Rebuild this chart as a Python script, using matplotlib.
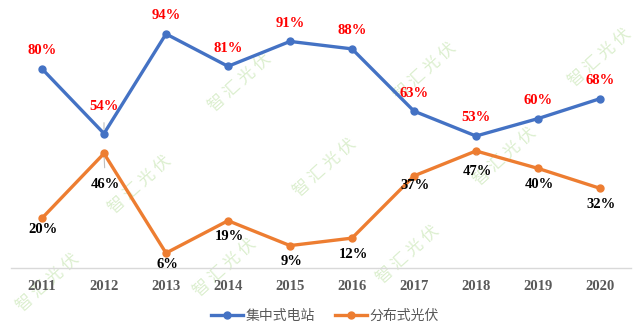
import matplotlib.pyplot as plt

plt.rcParams['font.family'] = ['Noto Sans CJK SC', 'DejaVu Sans']
plt.rcParams['axes.unicode_minus'] = False

years = ['2011', '2012', '2013', '2014', '2015', '2016', '2017', '2018', '2019', '2020']
centralized = [80, 54, 94, 81, 91, 88, 63, 53, 60, 68]
distributed = [20, 46, 6, 19, 9, 12, 37, 47, 40, 32]
series_names = ['集中式电站', '分布式光伏']

BLUE = '#4472C4'
ORANGE = '#ED7D31'
GREY = '#595959'
serif_bold = dict(family='Liberation Serif', weight='bold', fontsize=10.5)

fig = plt.figure(figsize=(6.4, 3.34), dpi=100)
ax = fig.add_axes([11 / 640, 66 / 334, 620 / 640, 249 / 334])

x = list(range(len(years)))
ax.plot(x, centralized, color=BLUE, lw=2.4, marker='o', ms=5, label=series_names[0], zorder=3)
ax.plot(x, distributed, color=ORANGE, lw=2.4, marker='o', ms=5, label=series_names[1], zorder=3)

# 数据标签：上方红色、下方黑色，个别点加引线
blue_offsets = {1: 19.5}
orange_offsets = {0: -8, 1: -22, 2: -8.5, 6: -7, 7: -15}
leader = dict(arrowstyle='-', color='#bfbfbf', lw=0.8, shrinkA=5, shrinkB=3)
for i, v in enumerate(centralized):
    dy = blue_offsets.get(i, 13)
    ax.annotate(f'{v}%', (i, v), xytext=(0, dy), textcoords='offset points',
                ha='center', va='center', color='red', zorder=4,
                arrowprops=leader if i in blue_offsets else None, **serif_bold)
for i, v in enumerate(distributed):
    dy = orange_offsets.get(i, -11.5)
    ax.annotate(f'{v}%', (i, v), xytext=(1, dy), textcoords='offset points',
                ha='center', va='center', color='black', zorder=4,
                arrowprops=leader if i in (1, 7) else None, **serif_bold)

ax.set_xlim(-0.5, len(years) - 0.5)
ax.set_ylim(0, 100)
ax.set_xticks(x)
ax.set_xticklabels(years, color=GREY, **serif_bold)
ax.tick_params(axis='x', length=0, pad=9)
ax.set_yticks([])
for side in ['top', 'left', 'right']:
    ax.spines[side].set_visible(False)
ax.spines['bottom'].set_color('#d9d9d9')
ax.spines['bottom'].set_linewidth(1)

# 水印
marks = [(240, 83), (425, 72), (600, 58), (140, 185), (325, 168),
         (505, 157), (48, 283), (225, 268), (408, 255)]
for mx, my in marks:
    ax.text(mx / 640, 1 - my / 334, '智 汇 光 伏', transform=fig.transFigure,
            rotation=42, ha='center', va='center', fontsize=12, color='#dcefcf',
            clip_on=False, zorder=1)

leg = fig.legend(loc='center', bbox_to_anchor=(0.508, 0.054), ncol=2, frameon=False,
                 handlelength=2.3, handletextpad=0.2, columnspacing=1.4, fontsize=10)
for t in leg.get_texts():
    t.set_color(GREY)

fig.savefig('out.png', dpi=100)
